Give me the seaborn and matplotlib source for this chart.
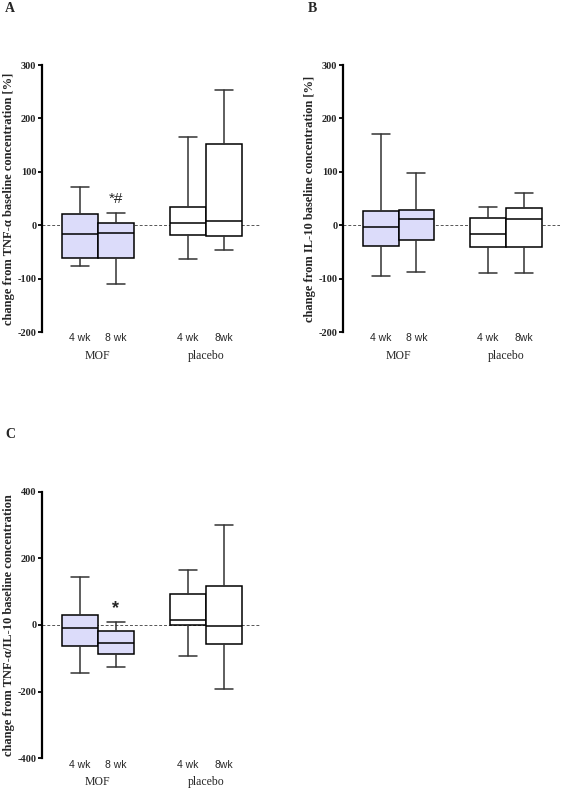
import matplotlib
matplotlib.use("Agg")
import matplotlib.pyplot as plt
import seaborn as sns

# Box statistics (MOF 4 wk, MOF 8 wk, placebo 4 wk, placebo 8 wk)
weeks = ["4 wk", "8 wk", "4 wk", "8wk"]
groups = ["MOF", "placebo"]

tnf_whislo = [-77, -111, -64, -47]
tnf_q1 = [-61, -61, -18, -21]
tnf_med = [-17, -14, 5, 7]
tnf_q3 = [21, 5, 35, 153]
tnf_whishi = [71, 22, 166, 253]

il10_whislo = [-96, -87, -90, -90]
il10_q1 = [-39, -27, -40, -40]
il10_med = [-4, 12, -17, 11]
il10_q3 = [26, 29, 13, 32]
il10_whishi = [171, 98, 34, 60]

ratio_whislo = [-145, -127, -94, -192]
ratio_q1 = [-63, -87, 0, -58]
ratio_med = [-10, -55, 15, -3]
ratio_q3 = [29, -17, 94, 118]
ratio_whishi = [144, 8, 164, 300]

sns.set_style("ticks")
plt.rcParams["font.family"] = ["Liberation Serif", "DejaVu Serif"]
sans = ["Liberation Sans", "DejaVu Sans"]

mof_color = "#dcdcfa"
positions = [0, 1, 3, 4]


def draw_panel(ax, whislo, q1, med, q3, whishi, ylabel, ylim, yticks):
    stats = []
    for i in range(len(weeks)):
        stats.append(dict(whislo=whislo[i], q1=q1[i], med=med[i], q3=q3[i],
                          whishi=whishi[i], fliers=[]))
    ax.axhline(0, color="#555555", lw=0.7, ls=(0, (3, 2)), zorder=1)
    bp = ax.bxp(stats, positions=positions, widths=1.0, patch_artist=True,
                showfliers=False, capwidths=0.5,
                boxprops=dict(edgecolor="black", linewidth=1.1),
                medianprops=dict(color="black", linewidth=1.1),
                whiskerprops=dict(color="#333333", linewidth=1.1),
                capprops=dict(color="#333333", linewidth=1.1), zorder=2)
    for i, box in enumerate(bp["boxes"]):
        box.set_facecolor(mof_color if i < 2 else "white")
    ax.set_xlim(-1.05, 5.0)
    ax.set_ylim(ylim)
    ax.set_yticks(yticks)
    ax.set_yticklabels([str(t) for t in yticks])
    for lbl in ax.get_yticklabels():
        lbl.set_fontweight("bold")
        lbl.set_fontsize(7.5)
    ax.set_xticks(positions)
    ax.set_xticklabels(weeks)
    for lbl in ax.get_xticklabels():
        lbl.set_fontfamily(sans)
        lbl.set_fontsize(7.5)
    ax.tick_params(axis="x", length=0, pad=1.0)
    ax.tick_params(axis="y", length=3, width=1.3, pad=1, color="black")
    for s in ["top", "right", "bottom"]:
        ax.spines[s].set_visible(False)
    ax.spines["left"].set_linewidth(1.6)
    ax.spines["left"].set_color("black")
    ax.set_ylabel(ylabel, fontweight="bold", fontsize=9, labelpad=2)
    for g, x in zip(groups, [0.5, 3.5]):
        ax.annotate(g, xy=(x, 0), xycoords=("data", "axes fraction"),
                    xytext=(0, -17), textcoords="offset points",
                    ha="center", va="center", fontsize=8.5)


fig = plt.figure(figsize=(5.63, 7.89), dpi=100)
ax_a = fig.add_axes([0.0746, 0.5792, 0.387, 0.3384])
ax_b = fig.add_axes([0.6092, 0.5792, 0.385, 0.3384])
ax_c = fig.add_axes([0.0746, 0.0389, 0.387, 0.3380])

draw_panel(ax_a, tnf_whislo, tnf_q1, tnf_med, tnf_q3, tnf_whishi,
           "change from TNF-\u03b1 baseline concentration [%]", (-200, 300),
           [-200, -100, 0, 100, 200, 300])
draw_panel(ax_b, il10_whislo, il10_q1, il10_med, il10_q3, il10_whishi,
           "change from IL-10 baseline concentration [%]", (-200, 300),
           [-200, -100, 0, 100, 200, 300])
draw_panel(ax_c, ratio_whislo, ratio_q1, ratio_med, ratio_q3, ratio_whishi,
           "change from TNF-\u03b1/IL-10 baseline concentration", (-400, 400),
           [-400, -200, 0, 200, 400])

# significance marks
ax_a.text(1, 50, "*#", ha="center", va="center", family=sans, fontsize=11)
ax_c.text(1, 50, "*", ha="center", va="center", family=sans,
          fontsize=13, fontweight="bold")

for letter, x, y in [("A", 10, 9), ("B", 312, 9), ("C", 10, 434)]:
    fig.text(x / 563, 1 - y / 789, letter, fontweight="bold", fontsize=10,
             ha="center", va="center")

fig.savefig("out.png", dpi=100)
